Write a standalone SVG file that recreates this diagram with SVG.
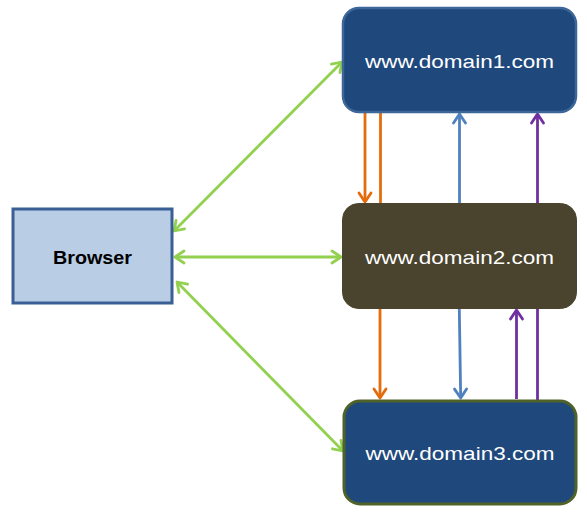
<svg xmlns="http://www.w3.org/2000/svg" width="587" height="514" viewBox="0 0 587 514">
<style>
.dom{font-family:"Liberation Sans",Arial,sans-serif;font-size:19px;fill:#ffffff;text-anchor:middle;dominant-baseline:central}
.br{font-family:"Liberation Sans",Arial,sans-serif;font-size:19px;font-weight:bold;fill:#000000;text-anchor:middle;dominant-baseline:central}
.c{fill:none;stroke-width:2.8}
.g{stroke:#92d050}
.o{stroke:#e46c0a}
.b{stroke:#4f81bd}
.p{stroke:#7030a0}
</style>
<defs>
<marker id="mg" markerUnits="userSpaceOnUse" viewBox="-12 -8 14 16" refX="0" refY="0" markerWidth="14" markerHeight="16" orient="auto-start-reverse"><path d="M-9,-6 L0,0 L-9,6" fill="none" stroke="#92d050" stroke-width="2.8" stroke-linecap="round" stroke-linejoin="round"/></marker>
<marker id="mo" markerUnits="userSpaceOnUse" viewBox="-12 -8 14 16" refX="0" refY="0" markerWidth="14" markerHeight="16" orient="auto"><path d="M-9,-6 L0,0 L-9,6" fill="none" stroke="#e46c0a" stroke-width="2.8" stroke-linecap="round" stroke-linejoin="round"/></marker>
<marker id="mb" markerUnits="userSpaceOnUse" viewBox="-12 -8 14 16" refX="0" refY="0" markerWidth="14" markerHeight="16" orient="auto"><path d="M-9,-6 L0,0 L-9,6" fill="none" stroke="#4f81bd" stroke-width="2.8" stroke-linecap="round" stroke-linejoin="round"/></marker>
<marker id="mp" markerUnits="userSpaceOnUse" viewBox="-12 -8 14 16" refX="0" refY="0" markerWidth="14" markerHeight="16" orient="auto"><path d="M-9,-6 L0,0 L-9,6" fill="none" stroke="#7030a0" stroke-width="2.8" stroke-linecap="round" stroke-linejoin="round"/></marker>
</defs>
<rect width="587" height="514" fill="#ffffff"/>
<g id="connectors">
<line class="c g" x1="174" y1="231" x2="342" y2="62" marker-start="url(#mg)" marker-end="url(#mg)"/>
<line class="c g" x1="175" y1="257" x2="341" y2="257" marker-start="url(#mg)" marker-end="url(#mg)"/>
<line class="c g" x1="177" y1="282" x2="343" y2="451" marker-start="url(#mg)" marker-end="url(#mg)"/>
<line class="c o" x1="365" y1="113" x2="365" y2="202" marker-end="url(#mo)"/>
<line class="c o" x1="380.5" y1="113" x2="380.5" y2="203"/>
<line class="c b" x1="459.5" y1="203" x2="459.5" y2="114" marker-end="url(#mb)"/>
<line class="c p" x1="537.5" y1="203" x2="537.5" y2="114" marker-end="url(#mp)"/>
<line class="c o" x1="380" y1="309" x2="380" y2="398" marker-end="url(#mo)"/>
<line class="c b" x1="459.3" y1="309" x2="460.7" y2="398" marker-end="url(#mb)"/>
<line class="c p" x1="516.5" y1="399" x2="516.5" y2="310" marker-end="url(#mp)"/>
<line class="c p" x1="537.5" y1="309" x2="537.5" y2="400"/>
</g>
<g id="browser">
<rect x="13" y="209" width="159" height="94" fill="#b9cde5" stroke="#3a5f95" stroke-width="3"/>
<text class="br" x="92.5" y="257" textLength="79" lengthAdjust="spacingAndGlyphs">Browser</text>
</g>
<g id="domain1">
<rect x="343" y="8" width="233" height="104" rx="16" ry="16" fill="#1f497d" stroke="#3d6699" stroke-width="2.5"/>
<text class="dom" x="459.5" y="61" textLength="189" lengthAdjust="spacingAndGlyphs">www.domain1.com</text>
</g>
<g id="domain2">
<rect x="342.5" y="203.5" width="234" height="105" rx="16" ry="16" fill="#4a432d" stroke="#4a432d" stroke-width="1"/>
<text class="dom" x="459.5" y="257" textLength="189" lengthAdjust="spacingAndGlyphs">www.domain2.com</text>
</g>
<g id="domain3">
<rect x="344" y="401" width="232" height="103" rx="16" ry="16" fill="#1f497d" stroke="#4f6228" stroke-width="3"/>
<text class="dom" x="460" y="453" textLength="189" lengthAdjust="spacingAndGlyphs">www.domain3.com</text>
</g>
</svg>
